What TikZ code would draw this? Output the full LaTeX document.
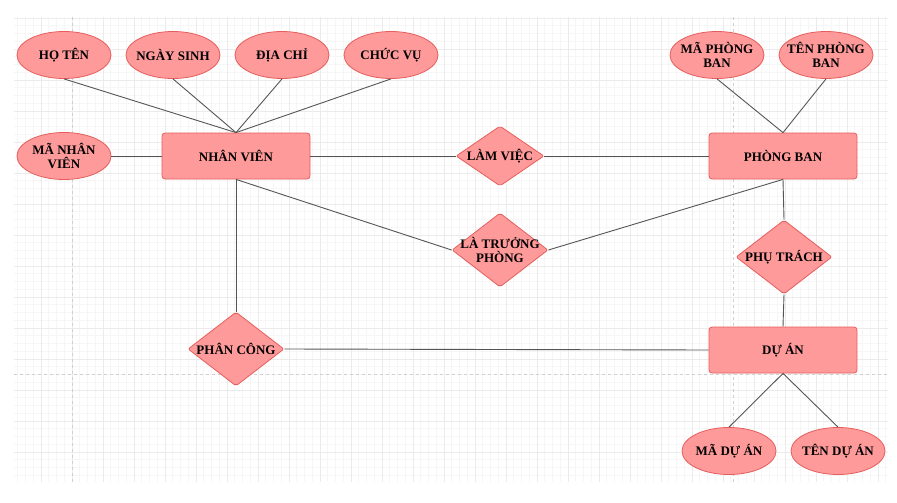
\documentclass[tikz,border=0pt]{standalone}
\usepackage{fontspec}
\setmainfont{Liberation Serif}
\usetikzlibrary{shapes.geometric}
\definecolor{Rose}{HTML}{FF9A9A}
\definecolor{RoseLine}{HTML}{E55E5C}
\definecolor{Wire}{HTML}{555555}
\definecolor{GridMinor}{HTML}{F6F6F6}
\definecolor{GridMajor}{HTML}{EBEBEB}
\definecolor{PageBreak}{HTML}{CFCFCF}
\tikzset{
  entity/.style={
    rounded corners=3pt, draw=RoseLine, thick, fill=Rose,
    minimum width=148pt, minimum height=46pt, align=center
  },
  attribute/.style={
    ellipse, draw=RoseLine, thick, fill=Rose, inner sep=-8pt,
    minimum width=94pt, minimum height=47pt, align=center
  },
  relation/.style={
    diamond, rounded corners=2pt, draw=RoseLine, thick, fill=Rose, inner sep=-14pt,
    minimum width=96pt, minimum height=74pt, align=center
  },
  link/.style={draw=Wire, line width=0.9pt},
  every node/.style={font=\bfseries\fontsize{13}{13.5}\selectfont}
}
\begin{document}
\begin{tikzpicture}[x=1pt,y=-1pt]
    \useasboundingbox[fill=white] (0,0) rectangle (897,503);
    % background grid
    \foreach \gx in {17.75,25.5,...,888} \draw[GridMinor,line width=0.6pt] (\gx,17) -- (\gx,482);
    \foreach \gy in {25.75,33.5,...,482} \draw[GridMinor,line width=0.6pt] (14,\gy) -- (888,\gy);
    \foreach \gx in {41,72,...,888} \draw[GridMajor,line width=0.7pt] (\gx,17) -- (\gx,482);
    \foreach \gy in {18,49,...,482} \draw[GridMajor,line width=0.7pt] (14,\gy) -- (888,\gy);
    \draw[PageBreak,dashed,line width=0.8pt] (72,17) -- (72,482) (733,17) -- (733,482) (14,374) -- (888,374);

    % entities
    \node[entity] (nv) at (236,156) {NHÂN VIÊN};
    \node[entity] (pb) at (783,156) {PHÒNG BAN};
    \node[entity] (da) at (783,350) {DỰ ÁN};

    % attributes
    \node[attribute] (hoten) at (64,55) {HỌ TÊN};
    \node[attribute] (ngaysinh) at (173,55) {NGÀY SINH};
    \node[attribute] (diachi) at (282,55) {ĐỊA CHỈ};
    \node[attribute] (chucvu) at (391,55) {CHỨC VỤ};
    \node[attribute] (manv) at (64,156) {MÃ NHÂN\\VIÊN};
    \node[attribute] (mapb) at (717,55) {MÃ PHÒNG\\BAN};
    \node[attribute] (tenpb) at (826,55) {TÊN PHÒNG\\BAN};
    \node[attribute] (mada) at (729,451) {MÃ DỰ ÁN};
    \node[attribute] (tenda) at (838,451) {TÊN DỰ ÁN};

    % relationships
    \node[relation,minimum width=88pt,minimum height=60pt] (lamviec) at (500,156) {LÀM VIỆC};
    \node[relation] (truongphong) at (500,250) {LÀ TRƯỞNG\\PHÒNG};
    \node[relation] (phancong) at (236,349) {PHÂN CÔNG};
    \node[relation] (phutrach) at (784,257) {PHỤ TRÁCH};

    % connectors
    \foreach \a in {hoten,ngaysinh,diachi,chucvu} \draw[link] (\a.south) -- (nv.north);
    \draw[link] (manv) -- (nv);
    \draw[link] (nv) -- (lamviec);
    \draw[link] (lamviec) -- (pb);
    \draw[link] (nv.south) -- (truongphong.west);
    \draw[link] (truongphong.east) -- (pb.south);
    \draw[link] (nv.south) -- (phancong.north);
    \draw[link] (phancong.east) -- (da.west);
    \draw[link] (pb.south) -- (phutrach.north);
    \draw[link] (phutrach.south) -- (da.north);
    \draw[link] (mapb.south) -- (pb.north);
    \draw[link] (tenpb.south) -- (pb.north);
    \draw[link] (da.south) -- (mada.north);
    \draw[link] (da.south) -- (tenda.north);
\end{tikzpicture}
\end{document}
